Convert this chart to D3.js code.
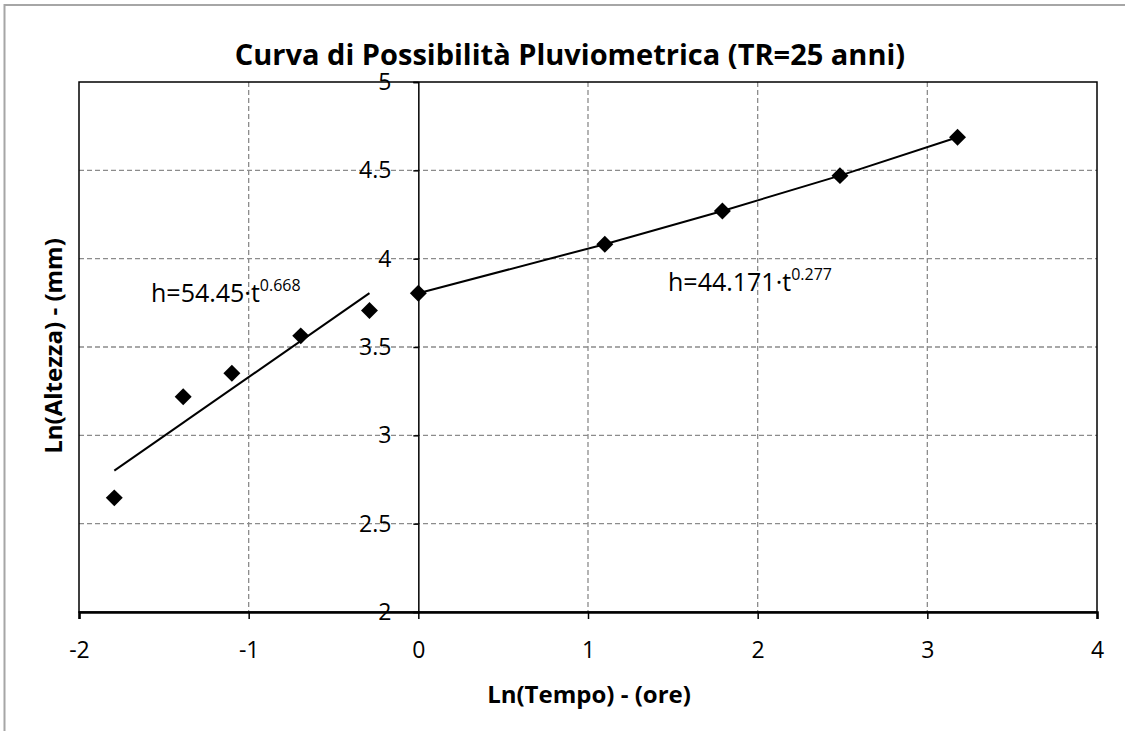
<!DOCTYPE html>
<html>
<head>
<meta charset="utf-8">
<script src="https://cdn.jsdelivr.net/npm/d3@7"></script>
<style>
  body { margin: 0; background: #fff; }
  svg { font-family: "Open Sans", "Noto Sans", sans-serif; }
</style>
</head>
<body>
<svg width="1125" height="731"></svg>
<script>
// log of duration (hours) and log of rainfall depth (mm)
var shortT = [-1.792, -1.386, -1.099, -0.693, -0.288];
var shortH = [2.646, 3.219, 3.351, 3.563, 3.706];
var longT = [0, 1.099, 1.792, 2.485, 3.178];
var longH = [3.804, 4.082, 4.270, 4.470, 4.687];

// fitted curve h = a * t^n (short durations)
var shortFit = {a: 54.45, n: 0.668};
var xTicks = [-2, -1, 0, 1, 2, 3, 4];
var yTicks = [2, 2.5, 3, 3.5, 4, 4.5, 5];

var svg = d3.select("svg");
var width = 1125, height = 731;
var margin = {left: 79, right: 28, top: 82, bottom: 119};

var x = d3.scaleLinear()
  .domain([-2, 4])
  .range([margin.left, width - margin.right]);

var y = d3.scaleLinear()
  .domain([2, 5])
  .range([height - margin.bottom, margin.top]);

// outer chart border (grey, only top and left visible)
svg.append("rect")
  .attr("x", 4.5).attr("y", 5)
  .attr("width", width + 20).attr("height", height + 20)
  .attr("fill", "none")
  .attr("stroke", "#a6a6a6")
  .attr("stroke-width", 2);

// dashed grid
svg.append("g").selectAll("line")
  .data(xTicks.filter(d => d != 0 && d != -2 && d != 4))
  .enter().append("line")
  .attr("x1", d => x(d)).attr("x2", d => x(d))
  .attr("y1", y(5)).attr("y2", y(2))
  .attr("stroke", "#8c8c8c")
  .attr("stroke-width", 1.3)
  .attr("stroke-dasharray", "5,3");

svg.append("g").selectAll("line")
  .data(yTicks.filter(d => d != 2 && d != 5))
  .enter().append("line")
  .attr("x1", x(-2)).attr("x2", x(4))
  .attr("y1", d => y(d)).attr("y2", d => y(d))
  .attr("stroke", "#8c8c8c")
  .attr("stroke-width", 1.3)
  .attr("stroke-dasharray", "5,3");

// plot area border
svg.append("rect")
  .attr("x", x(-2)).attr("y", y(5))
  .attr("width", x(4) - x(-2)).attr("height", y(2) - y(5))
  .attr("fill", "none")
  .attr("stroke", "#000")
  .attr("stroke-width", 1.5);

// x axis at y = 2
var xAxis = d3.axisBottom(x)
  .tickValues(xTicks)
  .tickFormat(d => String(d))
  .tickSize(7)
  .tickPadding(23);

var gx = svg.append("g")
  .attr("transform", "translate(0," + y(2) + ")")
  .call(xAxis);
gx.select(".domain").attr("stroke-width", 2.5);
gx.selectAll("line").attr("stroke-width", 1.5);
gx.selectAll("text")
  .attr("font-size", "23px")
  .attr("fill", "#000")
  .attr("font-family", "'Open Sans', sans-serif");

// y axis crossing at x = 0
var yAxis = d3.axisLeft(y)
  .tickValues(yTicks)
  .tickFormat(d => String(d))
  .tickSize(5)
  .tickPadding(22);

var gy = svg.append("g")
  .attr("transform", "translate(" + x(0) + ",0)")
  .call(yAxis);
gy.select(".domain").attr("stroke-width", 1.5);
gy.selectAll("line").attr("stroke-width", 1.5);
gy.selectAll("text")
  .attr("font-size", "23px")
  .attr("fill", "#000")
  .attr("font-family", "'Open Sans', sans-serif");

// trendline for short durations: ln h = ln a + n ln t
var tExt = d3.extent(shortT);
svg.append("line")
  .attr("x1", x(tExt[0]))
  .attr("y1", y(Math.log(shortFit.a) + shortFit.n * tExt[0]))
  .attr("x2", x(tExt[1]))
  .attr("y2", y(Math.log(shortFit.a) + shortFit.n * tExt[1]))
  .attr("stroke", "#000")
  .attr("stroke-width", 2);

// line joining long duration points
var longData = longT.map((t, i) => [t, longH[i]]);
svg.append("path")
  .datum(longData)
  .attr("fill", "none")
  .attr("stroke", "#000")
  .attr("stroke-width", 2)
  .attr("d", d3.line().x(d => x(d[0])).y(d => y(d[1])));

// diamond markers
var allData = shortT.map((t, i) => [t, shortH[i]]).concat(longData);
var diamond = d3.symbol().type(d3.symbolSquare).size(144);
svg.append("g").selectAll("path")
  .data(allData)
  .enter().append("path")
  .attr("d", diamond)
  .attr("fill", "#000")
  .attr("transform", d => "translate(" + x(d[0]) + "," + y(d[1]) + ") rotate(45)");

// equations
function equation(xp, yp, base, exp) {
  var t = svg.append("text")
    .attr("x", xp).attr("y", yp)
    .attr("font-size", "25px")
    .attr("fill", "#000");
  t.append("tspan").text(base);
  t.append("tspan").attr("dy", -11).attr("font-size", "16px").text(exp);
}
equation(151, 302, "h=54.45\u00b7t", "0.668");
equation(668, 291, "h=44.171\u00b7t", "0.277");

// title and axis titles
svg.append("text")
  .attr("x", 570).attr("y", 65)
  .attr("text-anchor", "middle")
  .attr("font-size", "29px")
  .attr("font-weight", "bold")
  .text("Curva di Possibilità Pluviometrica (TR=25 anni)");

svg.append("text")
  .attr("x", 589).attr("y", 703)
  .attr("text-anchor", "middle")
  .attr("font-size", "24px")
  .attr("font-weight", "bold")
  .text("Ln(Tempo) - (ore)");

svg.append("text")
  .attr("transform", "translate(62,346) rotate(-90)")
  .attr("text-anchor", "middle")
  .attr("font-size", "24px")
  .attr("font-weight", "bold")
  .text("Ln(Altezza) - (mm)");
</script>
</body>
</html>
